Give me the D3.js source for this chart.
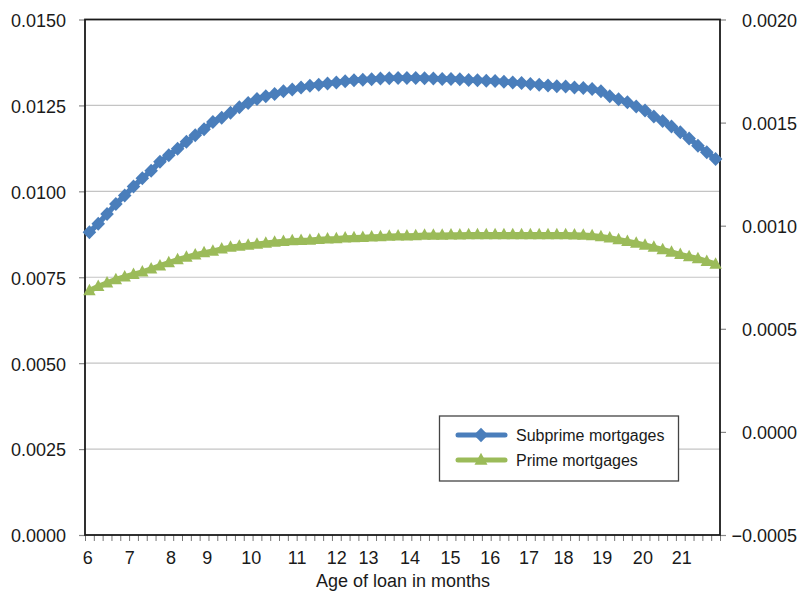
<!DOCTYPE html>
<html>
<head>
<meta charset="utf-8">
<script src="https://cdn.jsdelivr.net/npm/d3@7"></script>
<style>
  body { margin: 0; background: #fff; }
  svg { display: block; font-family: "Liberation Sans", Arial, Helvetica, sans-serif; }
</style>
</head>
<body>
<svg id="chart" width="799" height="591"></svg>
<script>
// Monthly default hazard by loan age, one value per category on the x axis
const subprime = [
  0.00881, 0.00906, 0.00934, 0.00963, 0.00988, 0.01014, 0.01038, 0.01060, 0.01086, 0.01105,
  0.01124, 0.01144, 0.01163, 0.01181, 0.01202, 0.01214, 0.01229, 0.01245, 0.01257, 0.01269,
  0.01277, 0.01283, 0.01291, 0.01296, 0.01302, 0.01307, 0.01310, 0.01314, 0.01317, 0.01320,
  0.01323, 0.01325, 0.01326, 0.01328, 0.01329, 0.01330, 0.01330, 0.01330, 0.01329, 0.01328,
  0.01327, 0.01327, 0.01326, 0.01324, 0.01323, 0.01322, 0.01321, 0.01319, 0.01317, 0.01315,
  0.01312, 0.01310, 0.01308, 0.01306, 0.01305, 0.01302, 0.01301, 0.01298, 0.01291, 0.01277,
  0.01268, 0.01259, 0.01247, 0.01235, 0.01218, 0.01205, 0.01189, 0.01172, 0.01154, 0.01133,
  0.01114, 0.01094
];
const prime = [
  0.00711, 0.00723, 0.00733, 0.00743, 0.00751, 0.00758, 0.00765, 0.00774, 0.00783, 0.00792,
  0.00801, 0.00808, 0.00815, 0.00821, 0.00826, 0.00832, 0.00837, 0.00840, 0.00843, 0.00846,
  0.00849, 0.00852, 0.00854, 0.00856, 0.00857, 0.00858, 0.00860, 0.00861, 0.00862, 0.00864,
  0.00865, 0.00866, 0.00867, 0.00868, 0.00869, 0.00870, 0.00870, 0.00871, 0.00872, 0.00872,
  0.00872, 0.00873, 0.00873, 0.00874, 0.00874, 0.00874, 0.00874, 0.00874, 0.00874, 0.00874,
  0.00874, 0.00874, 0.00874, 0.00874, 0.00874, 0.00873, 0.00872, 0.00871, 0.00868, 0.00864,
  0.00859, 0.00854, 0.00849, 0.00843, 0.00837, 0.00830, 0.00823, 0.00816, 0.00810, 0.00804,
  0.00796, 0.00788
];

// Month labels and where each falls along the category axis (in category units)
const monthLabels = ["6", "7", "8", "9", "10", "11", "12", "13", "14", "15", "16", "17", "18", "19", "20", "21"];
const monthLabelAt = [0.26, 5.02, 9.7, 13.8, 18.8, 24.0, 28.5, 32.1, 36.8, 41.4, 45.9, 50.3, 54.2, 58.6, 63.2, 67.6];

const leftTicks = [0, 0.0025, 0.005, 0.0075, 0.01, 0.0125, 0.015];
const rightTicks = [-0.0005, 0, 0.0005, 0.001, 0.0015, 0.002];
const seriesNames = ["Subprime mortgages", "Prime mortgages"];
const xTitle = "Age of loan in months";

const BLUE = "#4a7ebb", GREEN = "#9bbb59";
const plot = { left: 85, right: 720, top: 19.5, bottom: 535 };
const svg = d3.select("#chart");
const n = subprime.length;

const x = d3.scaleLinear().domain([0, n]).range([plot.left, plot.right]);
const yL = d3.scaleLinear().domain([0, 0.015]).range([plot.bottom, plot.top]);
const yR = d3.scaleLinear().domain([-0.0005, 0.002]).range([plot.bottom, plot.top]);
const fmt = d3.format(".4f");

// horizontal gridlines
svg.append("g").selectAll("line")
  .data(leftTicks.filter(t => t > 0 && t < 0.015))
  .join("line")
  .attr("x1", plot.left).attr("x2", plot.right)
  .attr("y1", d => yL(d)).attr("y2", d => yL(d))
  .attr("stroke", "#c4c4c4").attr("stroke-width", 1.2);

// left axis
const gL = svg.append("g").attr("transform", `translate(${plot.left},0)`)
  .call(d3.axisLeft(yL).tickValues(leftTicks).tickFormat(fmt).tickSize(6).tickPadding(13));
gL.select(".domain").remove();
gL.selectAll(".tick line").attr("stroke", "#888").attr("stroke-width", 1.2);
gL.selectAll(".tick text").attr("font-size", 18).attr("fill", "#1a1a1a")
  .attr("font-family", "Liberation Sans, Arial, sans-serif").attr("dy", "0.38em");

// right axis, labels right-aligned against the page edge
const gR = svg.append("g").attr("transform", `translate(${plot.right},0)`)
  .call(d3.axisRight(yR).tickValues(rightTicks).tickFormat(fmt).tickSize(6));
gR.select(".domain").remove();
gR.selectAll(".tick line").attr("stroke", "#888").attr("stroke-width", 1.2);
gR.selectAll(".tick text").attr("font-size", 18).attr("fill", "#1a1a1a")
  .attr("font-family", "Liberation Sans, Arial, sans-serif")
  .attr("text-anchor", "end").attr("x", 77).attr("dy", "0.38em");

// x axis: a minor tick at every category boundary
const gXm = svg.append("g").attr("transform", `translate(0,${plot.bottom})`)
  .call(d3.axisBottom(x).tickValues(d3.range(n + 1)).tickFormat("").tickSize(6));
gXm.select(".domain").remove();
gXm.selectAll(".tick line").attr("stroke", "#777").attr("stroke-width", 1);

// x axis month labels
const gX = svg.append("g").attr("transform", `translate(0,${plot.bottom})`)
  .call(d3.axisBottom(x).tickValues(monthLabelAt)
    .tickFormat((d, i) => monthLabels[i]).tickSize(0).tickPadding(16.5));
gX.select(".domain").remove();
gX.selectAll(".tick text").attr("font-size", 18).attr("fill", "#1a1a1a")
  .attr("font-family", "Liberation Sans, Arial, sans-serif");

// x axis title
svg.append("text")
  .attr("x", (plot.left + plot.right) / 2 + 0.5).attr("y", 586.5)
  .attr("text-anchor", "middle").attr("font-size", 18).attr("fill", "#1a1a1a")
  .text(xTitle);

// plot frame
svg.append("rect")
  .attr("x", plot.left).attr("y", plot.top)
  .attr("width", plot.right - plot.left).attr("height", plot.bottom - plot.top)
  .attr("fill", "none").attr("stroke", "#1a1a1a").attr("stroke-width", 1.8);

// marker shapes
const diamond = "M0,-7L6.8,0L0,7L-6.8,0Z";
const triangle = "M0,-7L6.2,4.5L-6.2,4.5Z";

const series = [
  { name: seriesNames[0], values: subprime, color: BLUE, shape: diamond },
  { name: seriesNames[1], values: prime, color: GREEN, shape: triangle }
];

const line = d3.line().x((d, i) => x(i + 0.5)).y(d => yL(d));

series.forEach(s => {
  const g = svg.append("g");
  g.append("path").datum(s.values)
    .attr("d", line).attr("fill", "none")
    .attr("stroke", s.color).attr("stroke-width", 5.5)
    .attr("stroke-linejoin", "round").attr("stroke-linecap", "round");
  g.selectAll("path.mk").data(s.values).join("path")
    .attr("class", "mk")
    .attr("d", s.shape)
    .attr("transform", (d, i) => `translate(${x(i + 0.5)},${yL(d)})`)
    .attr("fill", s.color);
});

// legend
const lg = svg.append("g");
lg.append("rect")
  .attr("x", 439.5).attr("y", 416).attr("width", 239).attr("height", 65)
  .attr("fill", "#fff").attr("stroke", "#444").attr("stroke-width", 1.3);
series.forEach((s, i) => {
  const cy = 435 + i * 25;
  lg.append("line")
    .attr("x1", 458).attr("x2", 505).attr("y1", cy).attr("y2", cy)
    .attr("stroke", s.color).attr("stroke-width", 5).attr("stroke-linecap", "round");
  lg.append("path").attr("d", s.shape)
    .attr("transform", `translate(481,${cy}) scale(1.05)`)
    .attr("fill", s.color);
  lg.append("text")
    .attr("x", 516).attr("y", cy).attr("dy", "0.35em")
    .attr("font-size", 16).attr("fill", "#1a1a1a")
    .text(s.name);
});
</script>
</body>
</html>
